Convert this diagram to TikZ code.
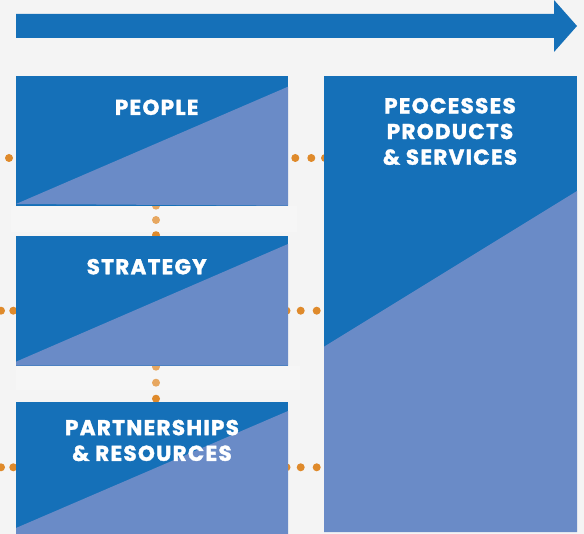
\documentclass[tikz,border=0pt]{standalone}
\usepackage{fontspec}
\setmainfont{Poppins}[BoldFeatures={FakeBold=1.6,LetterSpace=6}]
\definecolor{bgc}{HTML}{F4F4F4}
\definecolor{darkb}{HTML}{1570B8}
\definecolor{lightb}{HTML}{6A8BC7}
\definecolor{dotc}{HTML}{DF8A2B}
\tikzset{
  box/.style={rectangle, fill=darkb, inner sep=0pt, outer sep=0pt, anchor=north west},
  tri/.style={fill=lightb},
  lbl/.style={text=white, font=\fontsize{21.5}{25.7}\selectfont\bfseries, align=center, inner sep=0pt},
  dotm/.style={fill=dotc},
  band/.style={fill=white, opacity=0.25}
}
\begin{document}
\begin{tikzpicture}[x=1pt,y=-1pt]
\fill[bgc] (0,0) rectangle (584,534);
\useasboundingbox (0,0) rectangle (584,534);
% top arrow
\fill[darkb] (16,14) -- (554,14) -- (554,0) -- (577,26) -- (554,52) -- (554,38) -- (16,38) -- cycle;
% dots
\foreach \y in {205.7,220,235,366.7,382.7,398.7,533} \fill[dotm] (156,\y) circle (4);
\foreach \x in {9,295.3,311.3,325} \fill[dotm] (\x,158) circle (4);
\foreach \y in {310.7,467.3} {
  \foreach \x in {1,13.3,286.5,300.7,316.7} \fill[dotm] (\x,\y) circle (4);
}
% bands
\fill[band] (11,206) rectangle (297,232);
\fill[band] (16,366) rectangle (300,390);
% boxes
\node[box, minimum width=272pt, minimum height=129.7pt] (people) at (16,76) {};
\node[box, minimum width=272pt, minimum height=129.7pt] (strategy) at (16,236) {};
\node[box, minimum width=272pt, minimum height=132pt] (partners) at (16,402) {};
\node[box, minimum width=253pt, minimum height=456pt] (process) at (324,76) {};
\fill[tri] ([yshift=1.7pt]people.south west) -- (people.south east) -- ([yshift=-10.7pt]people.north east) -- cycle;
\fill[tri] ([yshift=4pt]strategy.south west) -- (strategy.south west) -- (strategy.south east) -- ([yshift=-8pt]strategy.north east) -- cycle;
\fill[tri] ([yshift=6pt]partners.south west) -- (partners.south west) -- (partners.south east) -- ([yshift=-9pt]partners.north east) -- cycle;
\fill[tri] ([yshift=185.3pt]process.south west) -- (process.south west) -- (process.south east) -- ([yshift=-115pt]process.north east) -- cycle;
% labels
\node[lbl] (tpeople) at (156.7,107.3) {PEOPLE};
\node[lbl] (tstrategy) at (146.7,266.7) {STRATEGY};
\node[lbl] (tpartners) at (152,440.5) {PARTNERSHIPS\\\& RESOURCES};
\node[lbl] (tprocess) at (450,131.5) {PEOCESSES\\PRODUCTS\\\& SERVICES};
\end{tikzpicture}
\end{document}
